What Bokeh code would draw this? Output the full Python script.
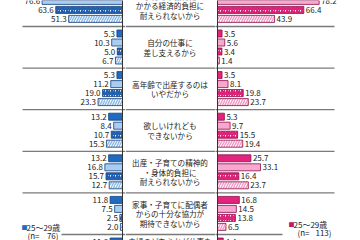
import math
from bokeh.plotting import figure
from bokeh.layouts import row
from bokeh.models import Range1d, ColumnDataSource, Label, BoxAnnotation, Span
from bokeh.core.properties import value
from bokeh.embed import file_html
from bokeh.resources import INLINE

NaN = float("nan")

# ---- data (NaN = bar outside the visible crop) ----
reasons = [
    ["子育てや教育に", "かかる経済的負担に", "耐えられないから"],
    ["自分の仕事に", "差し支えるから"],
    ["高年齢で出産するのは", "いやだから"],
    ["欲しいけれども", "できないから"],
    ["出産・子育ての精神的", "・身体的負担に", "耐えられないから"],
    ["家事・子育てに配偶者", "からの十分な協力が", "期待できないから"],
    ["夫婦のどちらかが仕事を"],
]
series_names = ["25〜29歳", "30〜34歳", "35〜39歳", "40〜44歳"]
men_s1 = [NaN, 5.3, 5.3, 13.2, 13.2, 11.8, 11.8]
men_s2 = [76.6, 10.3, 11.2, 8.4, 16.8, 7.5, NaN]
men_s3 = [63.6, 5.0, 19.0, 10.7, 15.7, 2.5, NaN]
men_s4 = [51.3, 6.7, 23.3, 15.3, 12.7, 2.0, NaN]
women_s1 = [NaN, 3.5, 3.5, 5.3, 25.7, 16.8, 4.4]
women_s2 = [78.2, 5.6, 8.1, 9.7, 33.1, 14.5, NaN]
women_s3 = [66.4, 3.4, 19.8, 15.5, 16.4, 13.8, NaN]
women_s4 = [43.9, 1.4, 23.7, 19.4, 23.7, 6.5, NaN]
men_n = "76"
women_n = "113"

# ---- layout constants ----
H = 240
GROUP_PX = 41.6
Y_TOP = 1 - 26 / GROUP_PX
Y_BOT = Y_TOP + H / GROUP_PX
OFFS = [(7 + 9 * j) / GROUP_PX for j in range(4)]
BAR_H = 7 / GROUP_PX
LEFT_W, CENTER_W, RIGHT_W = 125, 90, 145
L_AXIS_PX, R_AXIS_PX = 122, 217
L_SCALE, R_SCALE = 1.05, 1.30
FONT_NAME = "Noto Sans CJK JP"
FONT = value(FONT_NAME)

y_range = Range1d(Y_BOT, Y_TOP)


def base_fig(width, x_range):
    p = figure(width=width, height=H, x_range=x_range, y_range=y_range,
               output_backend="svg", toolbar_location=None, min_border=0,
               x_axis_type=None, y_axis_type=None, outline_line_color=None,
               background_fill_color="white", border_fill_color="white")
    p.grid.visible = False
    return p


left = base_fig(LEFT_W, Range1d(L_AXIS_PX / L_SCALE, -(LEFT_W - L_AXIS_PX) / L_SCALE))
center = base_fig(CENTER_W, Range1d(0, CENTER_W))
right = base_fig(RIGHT_W, Range1d(-(R_AXIS_PX - LEFT_W - CENTER_W) / R_SCALE,
                                 (360 - R_AXIS_PX) / R_SCALE))

seps = list(range(1, len(reasons)))
# separators
left.segment(x0=[(L_AXIS_PX - 22) / L_SCALE] * len(seps), x1=[-5] * len(seps),
             y0=seps, y1=seps, line_color="#7a7a7a", line_width=1.3)
center.segment(x0=[0] * len(seps), x1=[CENTER_W] * len(seps), y0=seps, y1=seps,
               line_color="#7a7a7a", line_width=1.3)
right.segment(x0=[-5] * len(seps), x1=[(334 - R_AXIS_PX) / R_SCALE] * len(seps),
              y0=seps, y1=seps, line_color="#7a7a7a", line_width=1.3)


def draw_side(p, vals_list, styles, outline, align, xoff):
    for j, (vals, st) in enumerate(zip(vals_list, styles)):
        ys = [g + OFFS[j] for g in range(len(vals))]
        src = ColumnDataSource(dict(
            y=[y for y, v in zip(ys, vals) if not math.isnan(v)],
            v=[v for v in vals if not math.isnan(v)],
            t=[f"{v:.1f}" for v in vals if not math.isnan(v)]))
        kw = dict(fill_color=st[0], line_color=outline, line_width=0.8)
        if st[1]:
            kw.update(hatch_pattern="/", hatch_color=st[1], hatch_scale=5,
                      hatch_weight=st[2])
        p.hbar(y="y", left=0, right="v", height=BAR_H, source=src, **kw)
        p.text(x="v", y="y", text="t", source=src, text_font=FONT,
               text_font_size="8px", text_align=align, text_baseline="middle",
               x_offset=xoff, text_color="#222222")


blue_styles = [("#1f6bc2", None, 0), ("#a8cdf2", None, 0),
               ("white", "#1f5fb0", 2.2), ("white", "#8ebbe8", 1.5)]
pink_styles = [("#e2247f", None, 0), ("#f8a8d0", None, 0),
               ("white", "#dc2078", 2.2), ("white", "#f29cc6", 1.5)]
draw_side(left, [men_s1, men_s2, men_s3, men_s4], blue_styles, "#173f78", "right", -2)
draw_side(right, [women_s1, women_s2, women_s3, women_s4], pink_styles, "#8a1048", "left", 2)

left.add_layout(Span(location=0, dimension="height", line_color="#333333", line_width=1))
right.add_layout(Span(location=0, dimension="height", line_color="#333333", line_width=1))

# reason labels
LINE_STEP = 9.5 / GROUP_PX
tx, ty, tt = [], [], []
for g, lines in enumerate(reasons):
    n = len(lines) if g < len(reasons) - 1 else 4
    c = g + 0.5
    for i, s in enumerate(lines):
        tx.append(169.5 - LEFT_W)
        ty.append(c + (i - (n - 1) / 2) * LINE_STEP)
        tt.append(s)
center.text(x=tx, y=ty, text=tt, text_font=FONT, text_font_size="7.6px",
            text_align="center", text_baseline="middle", text_color="#222222")


# legends
def legend(p, box, sq_x, y1, y2, nx, nrx, color, n):
    p.add_layout(BoxAnnotation(left=box[0], right=box[1], bottom=0, top=box[2],
                               left_units="screen", right_units="screen",
                               top_units="screen", bottom_units="screen",
                               fill_color="white", fill_alpha=1, line_color=None))
    common = dict(x_units="screen", y_units="screen", text_font=FONT_NAME,
                  text_baseline="middle")
    p.add_layout(Label(x=sq_x, y=y1, text="■", text_color=color,
                       text_font_size="6px", **common))
    p.add_layout(Label(x=sq_x + 5, y=y1, text=series_names[0], text_color="#222222",
                       text_font_size="8px", **common))
    p.add_layout(Label(x=nx, y=y2, text="(n=", text_color="#222222",
                       text_font_size="8px", **common))
    p.add_layout(Label(x=nrx, y=y2, text=n + ")", text_color="#222222",
                       text_font_size="8px", text_align="right", **common))


legend(left, (19, 61, 20), 21, 13, 5, 27, 58, "#1f6bc2", men_n)
legend(right, (67, 122, 23), 73, 16, 8, 82, 116, "#c0186a", women_n)

layout = row(left, center, right, spacing=0)
open("out.html", "w").write(file_html(layout, INLINE))
